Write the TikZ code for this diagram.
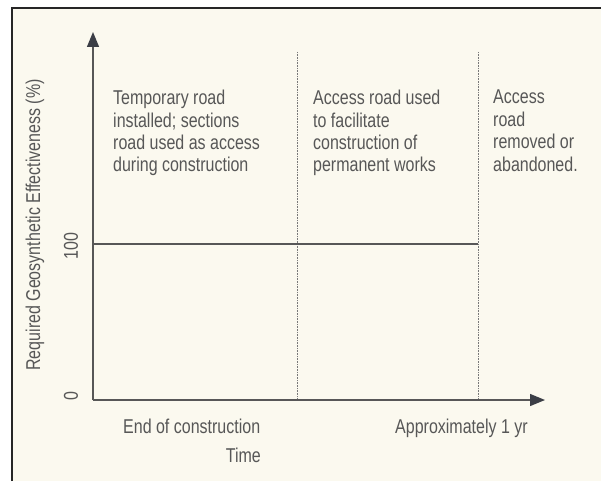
\documentclass[tikz,border=0pt]{standalone}
\usepackage{fontspec}
\setmainfont{Liberation Sans}[FakeStretch=0.8]
\usetikzlibrary{arrows.meta}
\definecolor{paper}{HTML}{FBF9EF}
\definecolor{ink}{HTML}{575757}
\definecolor{tipink}{HTML}{3B3E46}
\definecolor{frameink}{HTML}{262626}
\begin{document}
\begin{tikzpicture}[x=1pt,y=-1pt,
  lbl/.style={inner sep=0pt,text=ink,font=\fontsize{20}{22.4}\selectfont},
  blk/.style={lbl,align=left,anchor=north west},
  axis/.style={ink,line width=1.3pt,-{Triangle[length=15pt,width=12pt,color=tipink]}},
  marker/.style={ink!80,line width=0.7pt,dash pattern=on 0.8pt off 0.8pt},
  level/.style={ink,line width=1.2pt}]
\useasboundingbox[fill=white](0,0) rectangle (601,481);
\fill[paper](11,7) rectangle (601,481);
\draw[frameink,line width=2.2pt](12,481)--(12,8)--(601,8);
\coordinate (O) at (93,400);
\coordinate (ytop) at (93,32);
\coordinate (xend) at (545,400);
\coordinate (m1top) at (297,52);
\coordinate (m1bot) at (297,400);
\coordinate (m2top) at (478,52);
\coordinate (m2bot) at (478,400);
\coordinate (lvl) at (93,244);
\coordinate (lvlend) at (478,244);
\draw[marker](m1top)--(m1bot);
\draw[marker](m2top)--(m2bot);
\draw[level](lvl)--(lvlend);
\draw[axis](O)--(ytop);
\draw[axis](O)--(xend);
\node[lbl,rotate=90] (ylabel) at (35,225) {Required Geosynthetic Effectiveness (\%)};
\node[lbl,rotate=90] (hundred) at (71,246) {100};
\node[lbl,rotate=90] (zero) at (71,396) {0};
\node[blk] (phase1) at (113,90) {Temporary road\\installed; sections\\road used as access\\during construction};
\node[blk] (phase2) at (313,90) {Access road used\\to facilitate\\construction of\\permanent works};
\node[blk] (phase3) at (493,90) {Access\\road\\removed or\\abandoned.};
\node[lbl,anchor=base west] (endcon) at (123,433) {End of construction};
\node[lbl,anchor=base west] (oneyr) at (395,433) {Approximately 1 yr};
\node[lbl,anchor=base east] (time) at (261,462) {Time};
\end{tikzpicture}
\end{document}
